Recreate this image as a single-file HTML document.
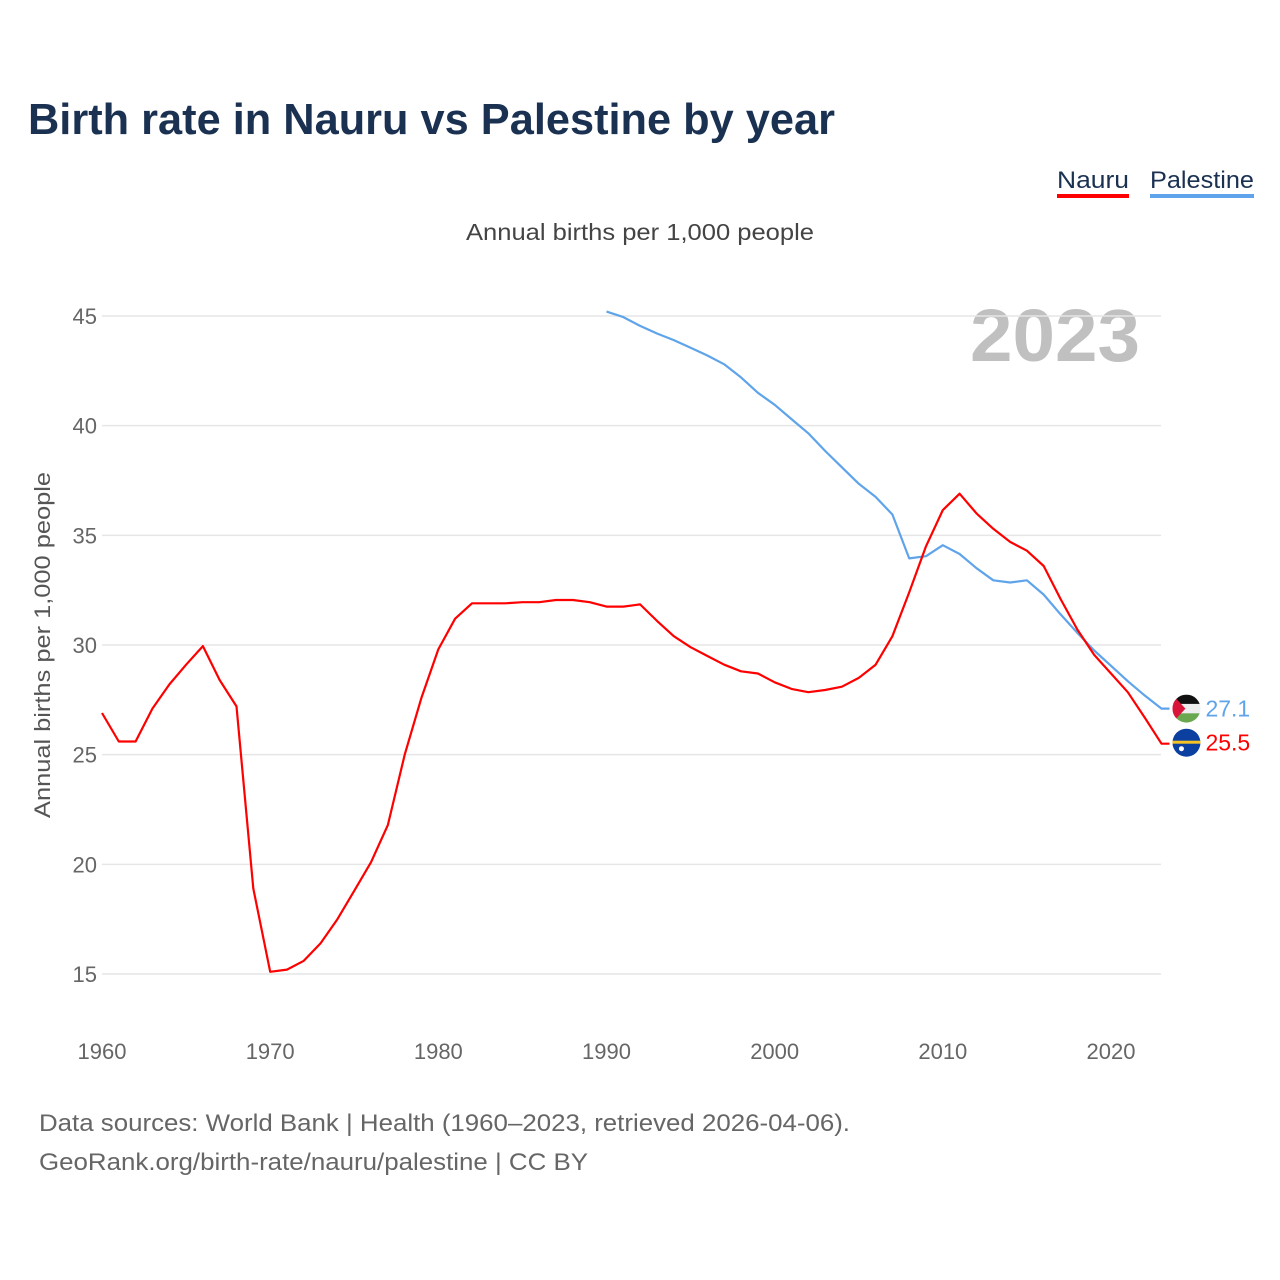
<!DOCTYPE html>
<html><head><meta charset="utf-8">
<style>
html,body{margin:0;padding:0;background:#fff;}
svg{display:block;font-family:"Liberation Sans",sans-serif;}
</style></head>
<body>
<svg id="chart" width="1280" height="1280" viewBox="0 0 1280 1280" xmlns="http://www.w3.org/2000/svg">
  <rect width="1280" height="1280" fill="#fff"/>
  <text x="28" y="134" font-size="44" font-weight="bold" fill="#1a3152" textLength="807" lengthAdjust="spacingAndGlyphs">Birth rate in Nauru vs Palestine by year</text>
  <g>
    <g>
      <text x="1057" y="188" font-size="24" fill="#1a3152" textLength="72" lengthAdjust="spacingAndGlyphs">Nauru</text>
      <rect x="1057" y="194" width="72" height="4" fill="#ff0000"/>
    </g>
    <g>
      <text x="1150" y="188" font-size="24" fill="#1a3152" textLength="104" lengthAdjust="spacingAndGlyphs">Palestine</text>
      <rect x="1150" y="194" width="104" height="4" fill="#5fa4ea"/>
    </g>
  </g>
  <text x="640" y="240" font-size="23" fill="#444" text-anchor="middle" textLength="348" lengthAdjust="spacingAndGlyphs">Annual births per 1,000 people</text>
  <text transform="translate(50,645) rotate(-90)" font-size="22" fill="#555" text-anchor="middle" textLength="346" lengthAdjust="spacingAndGlyphs">Annual births per 1,000 people</text>
  <text x="970" y="361" font-size="74" font-weight="bold" fill="#c0c0c0" textLength="170" lengthAdjust="spacingAndGlyphs">2023</text>
  <g id="grid"></g>
  <g id="yticks"></g>
  <g id="xticks"></g>
  <g id="lines"></g>
  <g id="ends"></g>
  <text x="39" y="1131" font-size="24" fill="#666" textLength="811" lengthAdjust="spacingAndGlyphs">Data sources: World Bank | Health (1960–2023, retrieved 2026-04-06).</text>
  <text x="39" y="1170" font-size="24" fill="#666" textLength="549" lengthAdjust="spacingAndGlyphs">GeoRank.org/birth-rate/nauru/palestine | CC BY</text>
</svg>
<script>
const nauruYears = [1960,1961,1962,1963,1964,1965,1966,1967,1968,1969,1970,1971,1972,1973,1974,1975,1976,1977,1978,1979,1980,1981,1982,1983,1984,1985,1986,1987,1988,1989,1990,1991,1992,1993,1994,1995,1996,1997,1998,1999,2000,2001,2002,2003,2004,2005,2006,2007,2008,2009,2010,2011,2012,2013,2014,2015,2016,2017,2018,2019,2020,2021,2022,2023];
const nauruValues = [26.9,25.6,25.6,27.1,28.2,29.1,29.95,28.4,27.2,18.9,15.1,15.2,15.6,16.4,17.5,18.8,20.1,21.8,25.0,27.6,29.8,31.2,31.9,31.9,31.9,31.95,31.95,32.05,32.05,31.95,31.75,31.75,31.85,31.1,30.4,29.9,29.5,29.1,28.8,28.7,28.3,28.0,27.85,27.95,28.1,28.5,29.1,30.4,32.4,34.5,36.15,36.9,36.0,35.3,34.7,34.3,33.6,32.1,30.7,29.55,28.7,27.85,26.7,25.5];
const palYears = [1990,1991,1992,1993,1994,1995,1996,1997,1998,1999,2000,2001,2002,2003,2004,2005,2006,2007,2008,2009,2010,2011,2012,2013,2014,2015,2016,2017,2018,2019,2020,2021,2022,2023];
const palValues = [45.2,44.95,44.55,44.2,43.9,43.55,43.2,42.8,42.2,41.5,40.95,40.3,39.65,38.85,38.1,37.35,36.75,35.95,33.95,34.05,34.55,34.15,33.5,32.95,32.85,32.95,32.3,31.4,30.55,29.75,29.05,28.35,27.7,27.1];
const yTickValues = [15,20,25,30,35,40,45];
const xTickValues = [1960,1970,1980,1990,2000,2010,2020];

const NS = "http://www.w3.org/2000/svg";
const X0 = 102, XPER = (1111-102)/60;
const Y45 = 316, YPER = (974-316)/30;
function xScale(yr){ return X0 + (yr-1960)*XPER; }
function yScale(v){ return Y45 + (45-v)*YPER; }
function mk(tag, attrs, parent){ const e=document.createElementNS(NS,tag); for(const k in attrs) e.setAttribute(k,attrs[k]); parent.appendChild(e); return e; }

const grid=document.getElementById('grid'), yt=document.getElementById('yticks'), xt=document.getElementById('xticks');
yTickValues.forEach(v=>{
  const l=mk('line',{x1:102,x2:1161,y1:yScale(v),y2:yScale(v),stroke:'#e6e6e6','stroke-width':1.5},grid);
  
  
  const t=mk('text',{x:97,y:yScale(v)+8,'font-size':22,fill:'#666','text-anchor':'end'},yt);
  t.textContent=v;
  
  
});
xTickValues.forEach(v=>{
  const t=mk('text',{x:xScale(v),y:1059,'font-size':22,fill:'#666','text-anchor':'middle'},xt);
  t.textContent=v;
  
  
});
const lines=document.getElementById('lines');
function drawLine(years, vals, color, name){
  let d=years.map((y,i)=>(i?'L':'M')+xScale(y).toFixed(1)+','+yScale(vals[i]).toFixed(1)).join(' ');
  d+=' h8';
  const p=mk('path',{d:d,fill:'none',stroke:color,'stroke-width':2.2,'stroke-linejoin':'round'},lines);
  
  
}
drawLine(palYears, palValues, '#5fa4ea', 'palestine-line');
drawLine(nauruYears, nauruValues, '#ff0000', 'nauru-line');

const ends=document.getElementById('ends');
const px=xScale(palYears[palYears.length-1]), pv=palValues[palValues.length-1];
const nx=xScale(nauruYears[nauruYears.length-1]), nv=nauruValues[nauruValues.length-1];
// Palestine flag
const pg=mk('g',{},ends);


const pcx=px+25, pcy=yScale(pv);
const cp=mk('clipPath',{id:'cp1'},pg);
mk('circle',{cx:pcx,cy:pcy,r:14},cp);
const pf=mk('g',{'clip-path':'url(#cp1)'},pg);
mk('rect',{x:pcx-14,y:pcy-14,width:28,height:9.5,fill:'#111'},pf);
mk('rect',{x:pcx-14,y:pcy-4.7,width:28,height:9.4,fill:'#eee'},pf);
mk('rect',{x:pcx-14,y:pcy+4.7,width:28,height:9.5,fill:'#6aa84f'},pf);
mk('polygon',{points:(pcx-14)+','+(pcy-14)+' '+(pcx-1)+','+pcy+' '+(pcx-14)+','+(pcy+14),fill:'#d9163a'},pf);
const pt=mk('text',{x:pcx+19,y:pcy+8,'font-size':23,fill:'#5fa4ea'},ends);
pt.textContent=pv.toFixed(1);


// Nauru flag
const ng=mk('g',{},ends);


const ncx=nx+25, ncy=yScale(nv)-1;
mk('circle',{cx:ncx,cy:ncy,r:14,fill:'#0b3fa0'},ng);
mk('rect',{x:ncx-14,y:ncy-2,width:28,height:3,fill:'#f6c324'},ng);
mk('circle',{cx:ncx-5,cy:ncy+6,r:2.5,fill:'#fff'},ng);
const nt=mk('text',{x:ncx+19,y:ncy+8,'font-size':23,fill:'#ff0000'},ends);
nt.textContent=nv.toFixed(1);


</script>
</body></html>
